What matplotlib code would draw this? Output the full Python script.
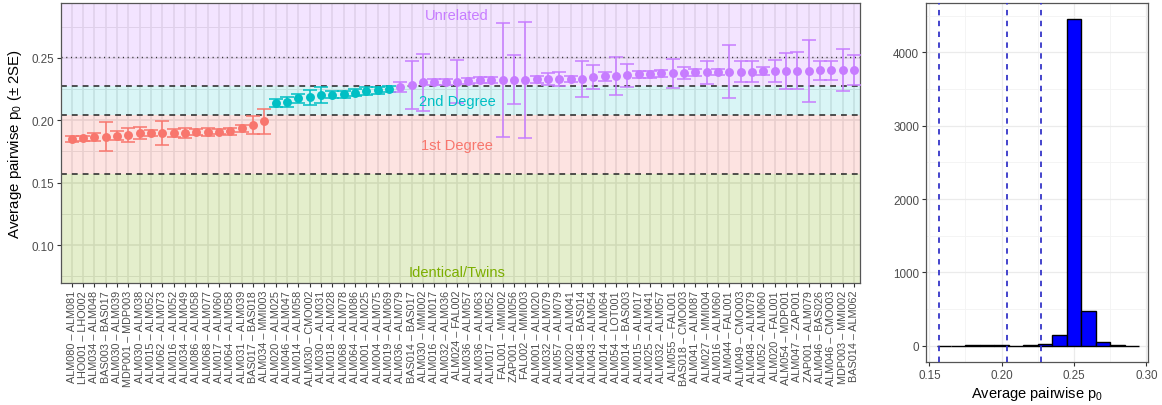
import matplotlib
matplotlib.use("Agg")
import matplotlib.pyplot as plt
import numpy as np

plt.rcParams['font.family'] = ['Liberation Sans', 'DejaVu Sans']
plt.rcParams['mathtext.fontset'] = 'custom'
plt.rcParams['mathtext.rm'] = 'Liberation Sans'
plt.rcParams['mathtext.it'] = 'Liberation Sans'

# ---------------- data ----------------
pairs = [
    "ALM080 – ALM081", "LHO001 – LHO002", "ALM034 – ALM048", "BAS003 – BAS017",
    "ALM030 – ALM039", "MDP001 – MDP003", "ALM030 – ALM038", "ALM015 – ALM052",
    "ALM062 – ALM073", "ALM016 – ALM052", "ALM034 – ALM049", "ALM086 – ALM058",
    "ALM068 – ALM077", "ALM017 – ALM060", "ALM064 – ALM058", "ALM031 – ALM039",
    "BAS017 – BAS018", "ALM034 – MMI003", "ALM020 – ALM025", "ALM046 – ALM047",
    "ALM014 – ALM058", "ALM030 – CMO002", "ALM030 – ALM031", "ALM018 – ALM028",
    "ALM068 – ALM078", "ALM064 – ALM086", "ALM001 – ALM025", "ALM004 – ALM075",
    "ALM019 – ALM069", "ALM036 – ALM079", "BAS014 – BAS017", "ALM030 – MMI002",
    "ALM016 – ALM017", "ALM032 – ALM036", "ALM024 – FAL002", "ALM036 – ALM057",
    "ALM036 – ALM063", "ALM017 – ALM052", "FAL001 – MMI002", "ZAP001 – ALM056",
    "FAL002 – MMI003", "ALM001 – ALM020", "ALM032 – ALM079", "ALM057 – ALM079",
    "ALM020 – ALM041", "ALM048 – BAS014", "ALM043 – ALM054", "ALM014 – ALM064",
    "ALM054 – LOT001", "ALM014 – BAS003", "ALM015 – ALM017", "ALM025 – ALM041",
    "ALM032 – ALM057", "ALM055 – FAL001", "BAS018 – CMO003", "ALM041 – ALM087",
    "ALM027 – MMI004", "ALM016 – ALM060", "ALM044 – FAL001", "ALM049 – CMO003",
    "ALM048 – ALM079", "ALM052 – ALM060", "ALM020 – FAL001", "ALM054 – MDP001",
    "ALM047 – ZAP001", "ZAP001 – ALM079", "ALM046 – BAS026", "ALM046 – CMO003",
    "MDP003 – MMI002", "BAS014 – ALM062",
]

p0_mean = [
    0.1850, 0.1855, 0.1869, 0.1869, 0.1877, 0.1885, 0.1896, 0.1898, 0.1898, 0.1898,
    0.1900, 0.1906, 0.1906, 0.1909, 0.1912, 0.1936, 0.1965, 0.1992,
    0.2139, 0.2149, 0.2176, 0.2184, 0.2205, 0.2205, 0.2208, 0.2219, 0.2232, 0.2240,
    0.2251,
    0.2267, 0.2283, 0.2304, 0.2304, 0.2306, 0.2309, 0.2317, 0.2320, 0.2322, 0.2325,
    0.2325, 0.2325, 0.2328, 0.2331, 0.2331, 0.2333, 0.2333, 0.2349, 0.2354, 0.2357,
    0.2362, 0.2367, 0.2367, 0.2375, 0.2375, 0.2379, 0.2384, 0.2384, 0.2389, 0.2389,
    0.2389, 0.2389, 0.2395, 0.2395, 0.2395, 0.2397, 0.2397, 0.2400, 0.2400, 0.2403,
    0.2403,
]

two_se = [
    0.0027, 0.0020, 0.0031, 0.0116, 0.0037, 0.0057, 0.0048, 0.0027, 0.0097, 0.0032,
    0.0040, 0.0024, 0.0032, 0.0019, 0.0027, 0.0027, 0.0072, 0.0101,
    0.0031, 0.0039, 0.0035, 0.0060, 0.0065, 0.0030, 0.0028, 0.0028, 0.0032, 0.0030,
    0.0021,
    0.0043, 0.0196, 0.0228, 0.0024, 0.0024, 0.0172, 0.0024, 0.0025, 0.0024, 0.0455,
    0.0196, 0.0466, 0.0030, 0.0047, 0.0053, 0.0025, 0.0144, 0.0097, 0.0037, 0.0152,
    0.0092, 0.0025, 0.0025, 0.0027, 0.0115, 0.0048, 0.0028, 0.0095, 0.0024, 0.0211,
    0.0084, 0.0084, 0.0032, 0.0090, 0.0144, 0.0147, 0.0247, 0.0077, 0.0077, 0.0171,
    0.0119,
]

relationship = ["1st Degree"] * 18 + ["2nd Degree"] * 11 + ["Unrelated"] * 41

background_p0 = 0.2511
threshold_factors = {"Unrelated": 0.90625, "2nd Degree": 0.8125, "1st Degree": 0.625}

hist_bin_centers = [0.16, 0.17, 0.18, 0.19, 0.20, 0.21, 0.22, 0.23, 0.24, 0.25,
                    0.26, 0.27, 0.28, 0.29]
hist_counts = [0, 0, 3, 15, 3, 2, 8, 20, 150, 4452, 467, 45, 4, 2]

# ---------------- styling ----------------
colors = {"Identical/Twins": "#7CAE00", "1st Degree": "#F8766D",
          "2nd Degree": "#00BFC4", "Unrelated": "#C77CFF"}
grid_col = "#E6E6E6"
tick_col = "#4D4D4D"

W, H = 1162, 406
fig = plt.figure(figsize=(W / 100, H / 100), dpi=100)

ax = fig.add_axes([61 / W, 1 - 284 / H, (860 - 61) / W, (284 - 4) / H])
axh = fig.add_axes([926 / W, 1 - 363 / H, (1148 - 926) / W, (363 - 4) / H])

n = len(pairs)
x = np.arange(1, n + 1)
ylo, yhi = 0.0696, 0.294
ax.set_xlim(0.06, n + 0.53)
ax.set_ylim(ylo, yhi)

t2 = background_p0 * threshold_factors["Unrelated"]
t1 = background_p0 * threshold_factors["2nd Degree"]
t0 = background_p0 * threshold_factors["1st Degree"]

# grid
for xi in x:
    ax.axvline(xi, color=grid_col, lw=1.2, zorder=0)
for yv in [0.075, 0.10, 0.125, 0.15, 0.175, 0.20, 0.225, 0.25, 0.275]:
    ax.axhline(yv, color=grid_col, lw=1.2 if yv in (0.10, 0.15, 0.20, 0.25) else 0.7, zorder=0)

# shaded regions
ax.axhspan(t2, yhi, color=colors["Unrelated"], alpha=0.2, lw=0, zorder=1)
ax.axhspan(t1, t2, color=colors["2nd Degree"], alpha=0.15, lw=0, zorder=1)
ax.axhspan(t0, t1, color=colors["1st Degree"], alpha=0.2, lw=0, zorder=1)
ax.axhspan(ylo, t0, color=colors["Identical/Twins"], alpha=0.2, lw=0, zorder=1)

for t in (t2, t1, t0):
    ax.axhline(t, color="#333333", lw=1.2, ls=(0, (3.5, 3.0)), zorder=2)
ax.axhline(background_p0, color="#333333", lw=1.0, ls=(0, (0.8, 2.6)), zorder=2)

# points + error bars
for xi, m, e, r in zip(x, p0_mean, two_se, relationship):
    ax.errorbar(xi, m, yerr=e, fmt="o", color=colors[r], ms=5.4, capsize=5,
                elinewidth=1.1, capthick=1.1, zorder=3)

# region labels
ax.text(35, 0.2844, "Unrelated", color=colors["Unrelated"], ha="center", va="center", fontsize=10.5, zorder=4)
ax.text(35, 0.2157, "2nd Degree", color=colors["2nd Degree"], ha="center", va="center", fontsize=10.5, zorder=4)
ax.text(35, 0.1800, "1st Degree", color=colors["1st Degree"], ha="center", va="center", fontsize=10.5, zorder=4)
ax.text(35, 0.0787, "Identical/Twins", color=colors["Identical/Twins"], ha="center", va="center", fontsize=10.5, zorder=4)

ax.set_xticks(x)
ax.set_xticklabels(pairs, rotation=90, fontsize=7.8, color=tick_col)
ax.set_yticks([0.10, 0.15, 0.20, 0.25])
ax.set_yticklabels(["0.10", "0.15", "0.20", "0.25"], fontsize=8.4, color=tick_col)
ax.tick_params(axis="both", length=3, width=0.8, color="#333333", pad=2)
ax.set_ylabel("Average pairwise p$_0$ (± 2SE)", fontsize=10.8, labelpad=5)
for s in ax.spines.values():
    s.set_color("#555555")
    s.set_linewidth(0.9)

# ---------------- histogram ----------------
axh.set_xlim(0.1477, 0.3012)
axh.set_ylim(-222, 4672)
for xv in [0.15, 0.20, 0.25, 0.30]:
    axh.axvline(xv, color="#EBEBEB", lw=0.9, zorder=0)
for xv in [0.175, 0.225, 0.275]:
    axh.axvline(xv, color="#F3F3F3", lw=0.6, zorder=0)
for yv in [0, 1000, 2000, 3000, 4000]:
    axh.axhline(yv, color="#EBEBEB", lw=0.9, zorder=0)
for yv in [500, 1500, 2500, 3500, 4500]:
    axh.axhline(yv, color="#F3F3F3", lw=0.6, zorder=0)

axh.bar(hist_bin_centers, hist_counts, width=0.01, color="#0000FF",
        edgecolor="black", linewidth=1.0, zorder=2)
for t in (t0, t1, t2):
    axh.axvline(t, color="#3535C8", lw=1.3, ls=(0, (3.0, 3.0)), zorder=3)

axh.set_xticks([0.15, 0.20, 0.25, 0.30])
axh.set_xticklabels(["0.15", "0.20", "0.25", "0.30"], fontsize=8.4, color=tick_col)
axh.set_yticks([0, 1000, 2000, 3000, 4000])
axh.set_yticklabels(["0", "1000", "2000", "3000", "4000"], fontsize=8.4, color=tick_col)
axh.tick_params(axis="both", length=3, width=0.8, color="#333333", pad=2)
axh.set_xlabel("Average pairwise p$_0$", fontsize=10.5, labelpad=2)
for s in axh.spines.values():
    s.set_color("#555555")
    s.set_linewidth(0.9)

fig.savefig("out.png", dpi=100, facecolor="white")
